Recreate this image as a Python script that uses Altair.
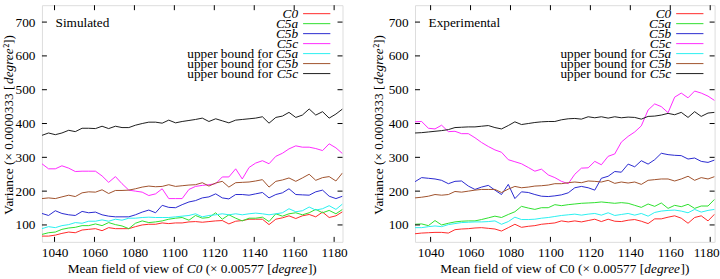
import altair as alt
import pandas as pd

FONT = "Liberation Serif"
FS = 13.3

SERIES = ["C0", "C5a", "C5b", "C5c",
          "upper bound for C5a", "upper bound for C5b", "upper bound for C5c"]
COLORS = ["#ff2a2a", "#2ee02e", "#2a2ad0", "#ff2aff", "#2af0f0", "#a0522d", "#1e1e1e"]
LEG_ITALIC = ["C0", "C5a", "C5b", "C5c", "C5a", "C5b", "C5c"]
LEG_PLAIN = ["", "", "", "", "upper bound for", "upper bound for", "upper bound for"]

X_TICKS = [1040, 1060, 1080, 1100, 1120, 1140, 1160, 1180]
Y_TICKS = [100, 200, 300, 400, 500, 600, 700]

# ---- Simulated ----
SIM_X = [1033.7, 1037.0, 1040.4, 1043.7, 1047.1, 1050.4, 1053.8, 1057.1, 1060.5, 1063.8,
         1067.1, 1070.5, 1073.8, 1077.2, 1080.5, 1083.9, 1087.2, 1090.6, 1093.9, 1097.2,
         1100.6, 1103.9, 1107.3, 1110.6, 1114.0, 1117.3, 1120.7, 1124.0, 1127.3, 1130.7,
         1134.0, 1137.4, 1140.7, 1144.1, 1147.4, 1150.8, 1154.1, 1157.4, 1160.8, 1164.1,
         1167.5, 1170.8, 1174.2, 1177.5, 1180.9, 1184.2]
SIM_C0 = [67, 67, 70, 75, 79, 77, 85, 87, 89, 83, 92, 89, 89, 89, 95, 100, 102, 102, 106, 104,
          106, 106, 109, 110, 108, 110, 112, 113, 103, 111, 113, 117, 117, 117, 101, 117, 121,
          127, 119, 127, 131, 124, 138, 122, 127, 139]
SIM_C5A = [72, 77, 79, 87, 91, 93, 98, 98, 103, 98, 107, 101, 97, 89, 105, 112, 107, 109, 112,
           117, 120, 122, 114, 128, 120, 122, 136, 117, 130, 120, 112, 120, 120, 123, 110, 133,
           126, 133, 136, 130, 136, 146, 136, 143, 133, 146]
SIM_C5B = [134, 128, 142, 134, 130, 128, 140, 136, 138, 130, 126, 124, 124, 124, 130, 138, 144,
           136, 158, 152, 151, 160, 168, 172, 180, 183, 192, 180, 177, 190, 190, 188, 192, 196,
           180, 190, 195, 207, 190, 189, 188, 198, 203, 185, 178, 185]
SIM_C5C = [281, 266, 266, 275, 268, 258, 259, 259, 259, 245, 226, 243, 222, 203, 200, 197, 187,
           192, 207, 178, 178, 178, 205, 214, 217, 219, 222, 242, 242, 266, 236, 270, 283, 290,
           281, 303, 312, 325, 334, 330, 330, 326, 320, 340, 328, 311]
SIM_UB_A = [89, 95, 92, 98, 101, 107, 105, 111, 111, 115, 111, 117, 114, 120, 120, 122, 123, 122,
            122, 122, 124, 126, 128, 133, 124, 128, 130, 133, 130, 133, 130, 133, 135, 133, 130,
            133, 136, 148, 139, 142, 153, 144, 148, 157, 146, 162]
SIM_UB_B = [178, 180, 178, 183, 188, 184, 195, 198, 197, 204, 193, 202, 202, 203, 207, 212, 215,
            213, 214, 219, 214, 216, 218, 219, 225, 215, 224, 229, 212, 225, 226, 227, 230, 234,
            212, 229, 233, 239, 229, 239, 250, 232, 240, 243, 230, 254]
SIM_UB_C = [365, 372, 367, 372, 380, 376, 386, 386, 385, 392, 385, 392, 388, 388, 395, 400, 404,
            404, 401, 410, 402, 406, 409, 412, 416, 406, 414, 408, 402, 410, 412, 414, 416, 420,
            401, 418, 422, 433, 418, 425, 443, 425, 435, 416, 428, 443]

# ---- Experimental ----
EXP_X = [1032.2, 1035.5, 1038.9, 1042.2, 1045.5, 1048.9, 1052.2, 1055.5, 1058.9, 1062.2,
         1065.5, 1068.9, 1072.2, 1075.5, 1078.9, 1082.2, 1085.5, 1088.9, 1092.2, 1095.5,
         1098.9, 1102.2, 1105.5, 1108.9, 1112.2, 1115.5, 1118.9, 1122.2, 1125.5, 1128.9,
         1132.2, 1135.5, 1138.9, 1142.2, 1145.5, 1148.9, 1152.2, 1155.5, 1158.9, 1162.2,
         1165.5, 1168.9, 1172.2, 1175.5, 1178.9, 1182.2]
EXP_C0 = [74, 76, 77, 78, 78, 76, 86, 88, 89, 91, 92, 90, 88, 82, 92, 102, 93, 96, 98, 102, 104,
          106, 112, 109, 112, 109, 113, 117, 110, 117, 111, 110, 114, 116, 111, 104, 118, 118,
          123, 127, 120, 105, 122, 127, 112, 132]
EXP_C5A = [102, 103, 98, 113, 100, 105, 109, 111, 112, 112, 116, 121, 126, 122, 131, 139, 155,
           150, 146, 151, 151, 160, 157, 160, 162, 164, 165, 166, 168, 166, 164, 166, 164, 158,
           152, 162, 155, 165, 149, 158, 154, 161, 149, 156, 156, 176]
EXP_C5B = [228, 240, 238, 236, 232, 222, 229, 230, 215, 205, 212, 217, 203, 190, 220, 178, 198,
           196, 190, 185, 184, 186, 189, 195, 210, 214, 210, 203, 238, 244, 258, 256, 280, 272,
           290, 280, 293, 312, 308, 306, 305, 295, 298, 288, 285, 292]
EXP_C5C = [405, 406, 386, 384, 395, 376, 377, 370, 370, 358, 344, 332, 322, 315, 293, 287, 281,
           270, 259, 265, 248, 240, 229, 222, 250, 268, 269, 288, 278, 303, 310, 345, 362, 375,
           393, 440, 458, 450, 432, 478, 490, 476, 496, 490, 481, 468]
EXP_UB_A = [92, 92, 95, 97, 95, 101, 104, 107, 108, 109, 109, 110, 112, 102, 110, 123, 116, 116,
            117, 120, 122, 125, 128, 130, 132, 129, 132, 134, 129, 136, 128, 131, 134, 129, 134,
            126, 137, 141, 143, 144, 141, 136, 146, 138, 143, 146]
EXP_UB_B = [180, 182, 185, 190, 188, 190, 199, 197, 200, 203, 205, 205, 205, 196, 206, 214, 210,
            212, 215, 216, 218, 222, 222, 225, 227, 225, 230, 229, 227, 232, 223, 227, 224, 227,
            220, 232, 234, 236, 236, 230, 236, 244, 232, 240, 236, 243]
EXP_UB_C = [372, 373, 375, 377, 379, 382, 388, 389, 390, 390, 392, 394, 388, 384, 394, 405, 397,
            400, 403, 405, 406, 406, 411, 414, 415, 413, 420, 417, 420, 416, 420, 417, 419, 418,
            413, 421, 422, 425, 430, 426, 433, 418, 435, 421, 431, 433]

H = 237
TICK = 5

# Times / Liberation Serif advance widths (per 1000 em) for composing mixed-style titles
REG_W = {' ': 250, '(': 333, ')': 333, '[': 333, ']': 333, '.': 250, '×': 564, '²': 300,
         'M': 889, 'V': 722, 'C': 667, 'a': 444, 'b': 500, 'c': 444, 'd': 500, 'e': 444,
         'f': 333, 'g': 500, 'i': 278, 'l': 278, 'n': 500, 'o': 500, 'p': 500, 'r': 333,
         'u': 500, 'v': 500, 'w': 722}
ITA_W = {'C': 667, 'a': 500, 'b': 500, 'c': 444, 'd': 500, 'e': 444, 'g': 500, 'r': 389}


def text_width(s, italic=False):
    table = ITA_W if italic else REG_W
    return sum(500 if ch.isdigit() else table.get(ch, 500) for ch in s) * FS / 1000.0


ONE = pd.DataFrame({"k": [0]})


def word(txt, px, py, italic=False, angle=0, align="left", baseline="alphabetic"):
    mark = alt.Chart(ONE).mark_text(
        text=txt, font=FONT, fontSize=FS, color="black",
        fontStyle="italic" if italic else "normal",
        align=align, baseline=baseline, angle=angle)
    return mark.encode(x=alt.value(px), y=alt.value(py))


def rich_line(segments, center, fixed, vertical=False):
    total = sum(text_width(s, it) for s, it in segments)
    layers = []
    pos = 0.0
    for s, it in segments:
        lead = len(s) - len(s.lstrip(" "))
        shown = s.strip(" ")
        start = pos + text_width(" " * lead, it)
        if shown:
            if vertical:
                layers.append(word(shown, fixed, center + total / 2 - start, it, angle=270))
            else:
                layers.append(word(shown, center - total / 2 + start, fixed, it))
        pos += text_width(s, it)
    return layers


def panel(xs, values, xdom, width, name, xtitle, ytitle_x, flush):
    rows = []
    for s, vals in zip(SERIES, values):
        for x, v in zip(xs, vals):
            rows.append({"x": x, "y": v, "series": s})
    df = pd.DataFrame(rows)

    xscale = alt.Scale(domain=xdom, nice=False, zero=False)
    yscale = alt.Scale(domain=[50, 750], nice=False, zero=False)
    xaxis_kw = dict(values=X_TICKS, format="d", title=None, grid=False, ticks=False,
                    domain=False, labelFont=FONT, labelFontSize=FS, labelColor="black",
                    labelPadding=4, labelFlush=flush)
    if flush:
        xaxis_kw["labelFlushOffset"] = 9
    xaxis = alt.Axis(**xaxis_kw)
    yaxis = alt.Axis(values=Y_TICKS, format="d", title=None, grid=False, ticks=False,
                     domain=False, labelFont=FONT, labelFontSize=FS, labelColor="black",
                     labelPadding=7)
    X = alt.X("x:Q", scale=xscale, axis=xaxis)
    Y = alt.Y("y:Q", scale=yscale, axis=yaxis)
    color = alt.Color("series:N", scale=alt.Scale(domain=SERIES, range=COLORS), legend=None)

    lines = alt.Chart(df).mark_line(strokeWidth=1, clip=True).encode(x=X, y=Y, color=color)

    xt = pd.DataFrame({"x": X_TICKS})
    yt = pd.DataFrame({"y": Y_TICKS})
    ticks = [
        alt.Chart(xt).mark_rule(color="black", strokeWidth=1).encode(
            x=X, y=alt.value(H), y2=alt.value(H - TICK)),
        alt.Chart(xt).mark_rule(color="black", strokeWidth=1).encode(
            x=X, y=alt.value(0), y2=alt.value(TICK)),
        alt.Chart(yt).mark_rule(color="black", strokeWidth=1).encode(
            y=Y, x=alt.value(0), x2=alt.value(TICK)),
        alt.Chart(yt).mark_rule(color="black", strokeWidth=1).encode(
            y=Y, x=alt.value(width - TICK), x2=alt.value(width)),
    ]

    titles = [word(name, 13.6, 22)]
    titles += rich_line(xtitle, width / 2, H + 31)
    titles += rich_line([("Variance (× 0.0000333 [", False), ("degree", True), ("²])", False)],
                        H / 2, ytitle_x, vertical=True)

    main = alt.layer(lines, *ticks, *titles)

    leg = pd.DataFrame({"row": list(range(len(SERIES))), "series": SERIES,
                        "ital": LEG_ITALIC, "plain": LEG_PLAIN})
    rowscale = alt.Scale(domain=[0, 6], range=[8.5, 68.5])
    RY = alt.Y("row:Q", scale=rowscale, axis=None)
    leg_lines = alt.Chart(leg).mark_rule(strokeWidth=1).encode(
        x=alt.value(261.5), x2=alt.value(288.8), y=RY, color=color)
    leg_ital = alt.Chart(leg).mark_text(
        align="right", baseline="middle", font=FONT, fontSize=FS, fontStyle="italic",
        color="black").encode(x=alt.value(256.5), y=RY, text="ital:N")
    leg_plain = alt.Chart(leg[leg["plain"] != ""]).mark_text(
        align="right", baseline="middle", font=FONT, fontSize=FS, color="black",
        dx=-25.3).encode(x=alt.value(256.5), y=RY, text="plain:N")
    legend = alt.layer(leg_lines, leg_ital, leg_plain)

    return alt.layer(main, legend).resolve_scale(y="independent").properties(
        width=width, height=H)


left = panel(
    SIM_X,
    [SIM_C0, SIM_C5A, SIM_C5B, SIM_C5C, SIM_UB_A, SIM_UB_B, SIM_UB_C],
    [1033.7, 1184.2], 301, "Simulated",
    [("Mean field of view of ", False), ("C0", True), (" (× 0.00577 [", False),
     ("degree", True), ("])", False)],
    -29, False)

right = panel(
    EXP_X,
    [EXP_C0, EXP_C5A, EXP_C5B, EXP_C5C, EXP_UB_A, EXP_UB_B, EXP_UB_C],
    [1032.2, 1182.2], 300, "Experimental",
    [("Mean field of view of C0 (× 0.00577 [", False), ("degree", True), ("])", False)],
    -31.6, 5)

chart = alt.hconcat(left, right, spacing=72.6, bounds="flush").properties(
    padding={"left": 1, "top": 4, "right": 0, "bottom": 0}
).configure_view(stroke="black", strokeWidth=1).configure(background="white")

chart.save("out.html", embed_options={"renderer": "svg", "actions": False})
